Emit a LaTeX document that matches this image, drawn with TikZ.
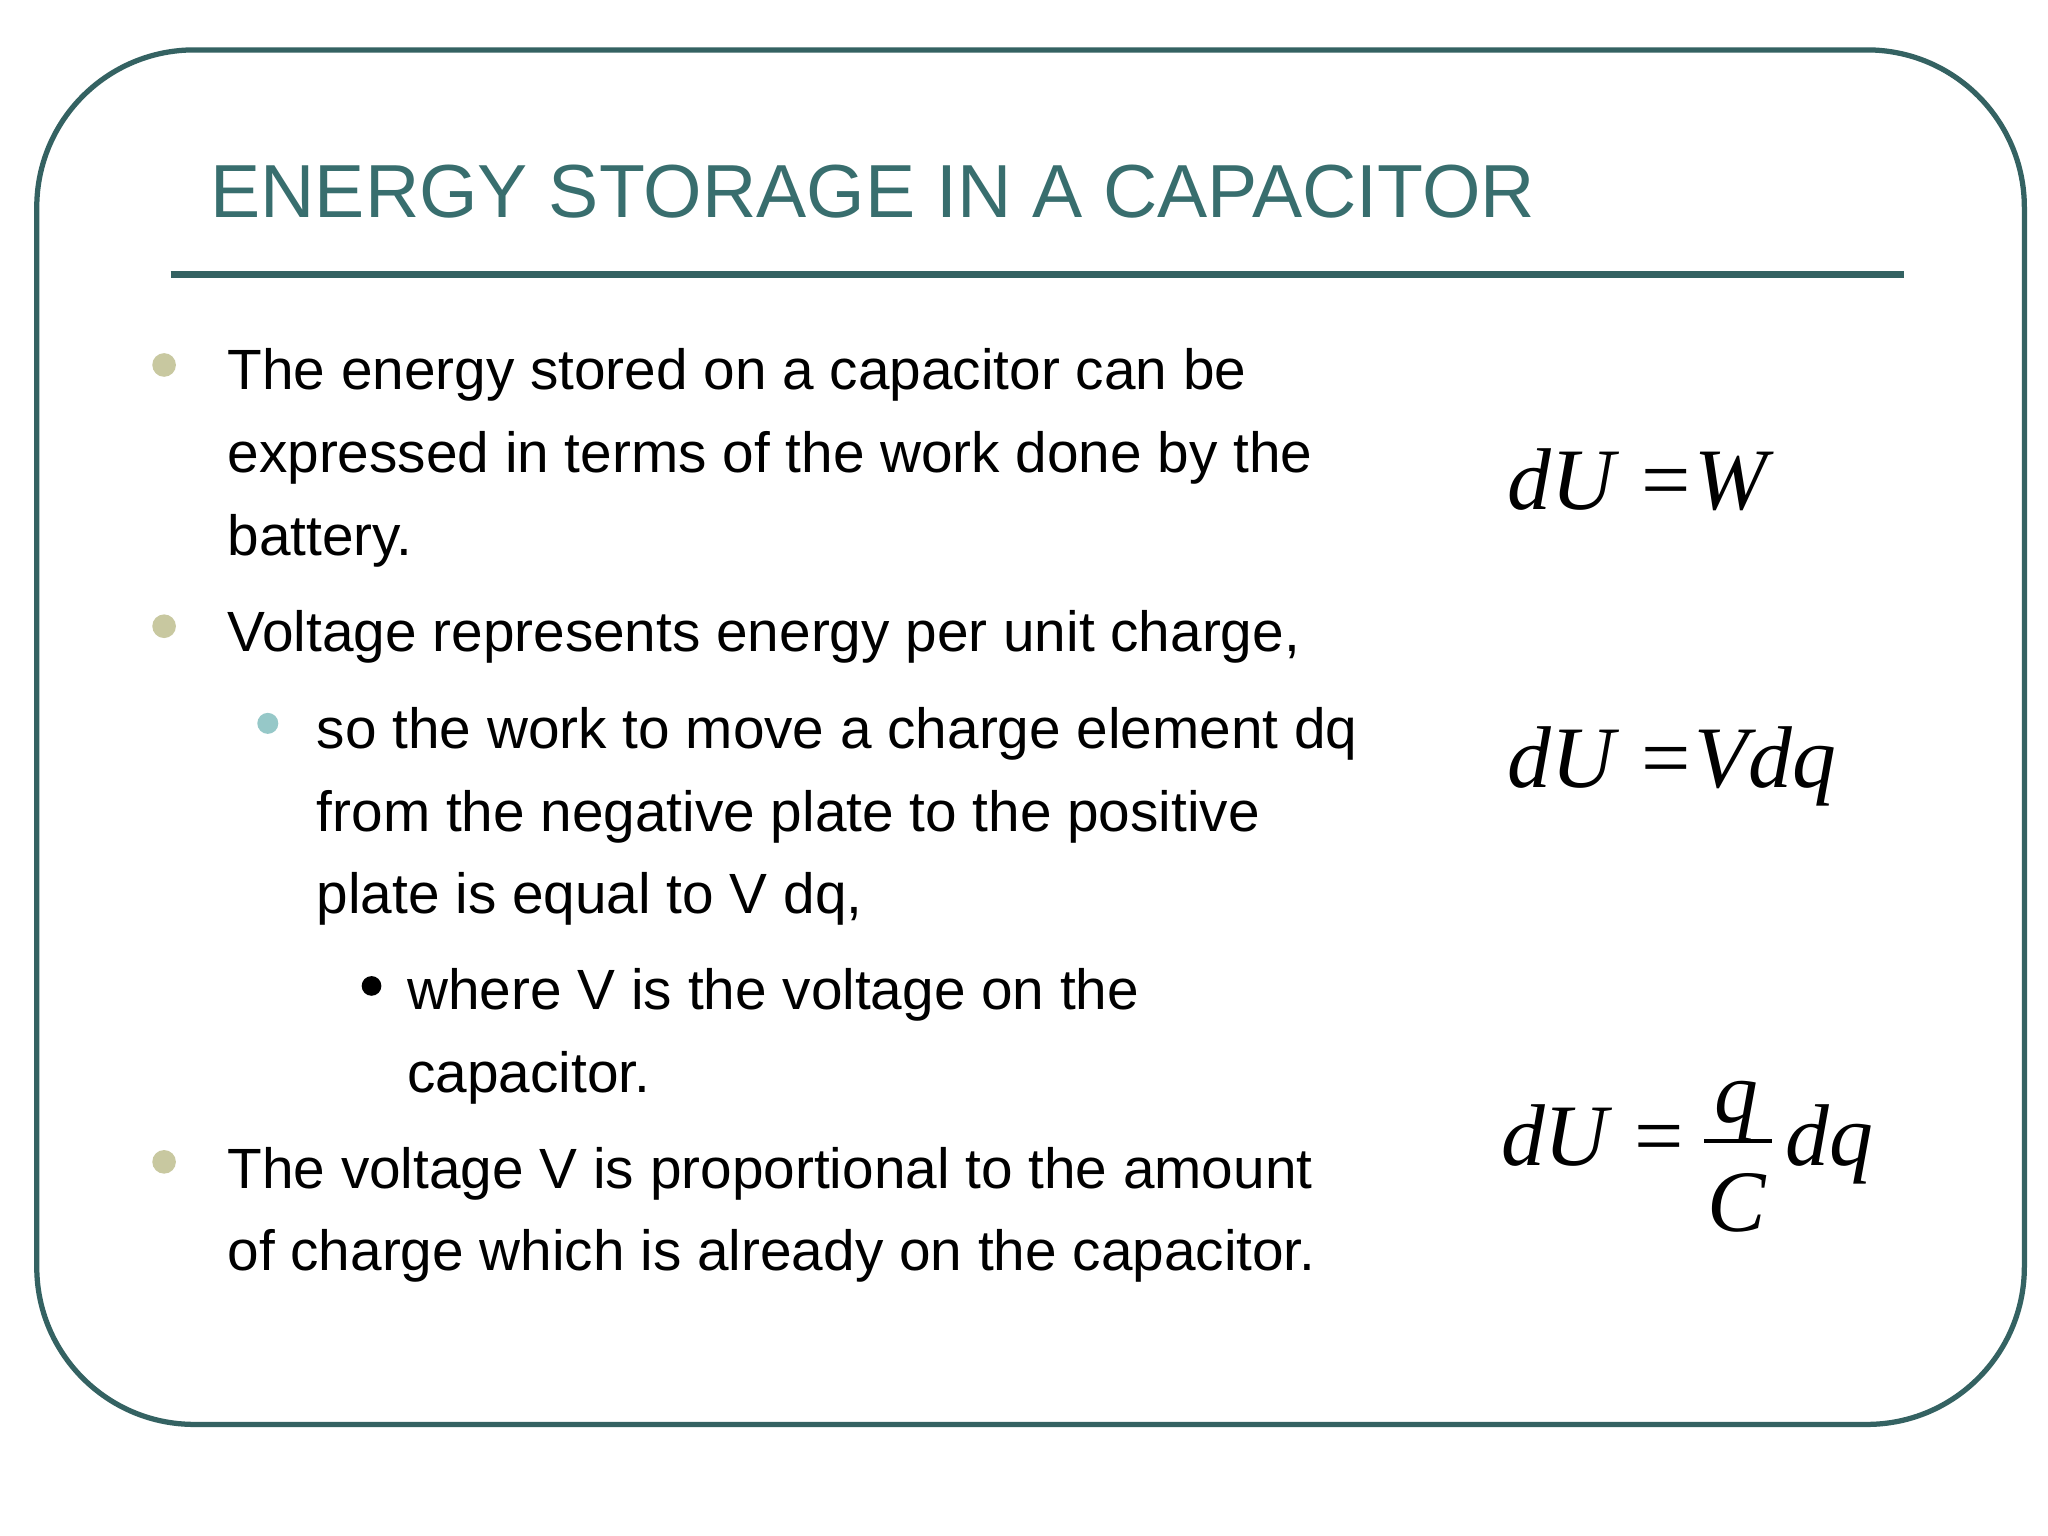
\documentclass[tikz,border=0pt]{standalone}
\usepackage{fontspec}
\setmainfont{Liberation Sans}
\newfontfamily\eqf{Liberation Serif}
\definecolor{frame}{RGB}{52,98,98}
\definecolor{titlec}{RGB}{56,110,110}
\definecolor{olive}{RGB}{200,200,160}
\definecolor{lteal}{RGB}{150,200,200}
\begin{document}
\begin{tikzpicture}[x=0.02cm,y=-0.02cm,
  body/.style={anchor=base west,inner sep=0,font=\fontsize{24.6}{28}\selectfont},
  eq/.style={anchor=base west,inner sep=0,font=\eqf\itshape\fontsize{38}{44}\selectfont},
  dot/.style={circle,inner sep=0,minimum size=0.36cm}]
\useasboundingbox (0,0) rectangle (1560,1170);
\fill[white] (0,0) rectangle (1560,1170);
\draw[frame,line width=0.08cm,rounded corners=2.4cm] (28,38) rectangle (1542,1085);
\node[anchor=base west,inner sep=0,text=titlec,font=\fontsize{32.6}{36}\selectfont] (title) at (160,166) {ENERGY STORAGE IN A CAPACITOR};
\draw[frame,line width=0.1cm] (130,209) -- (1450,209);
\node[dot,fill=olive] (b1) at (125,278) {};
\node[body] (t1) at (173,297) {The energy stored on a capacitor can be};
\node[body] (t2) at (173,360) {expressed in terms of the work done by the};
\node[body] (t3) at (173,423) {battery.};
\node[dot,fill=olive] (b2) at (125,477) {};
\node[body] (t4) at (173,496) {Voltage represents energy per unit charge,};
\node[dot,fill=lteal,minimum size=0.32cm] (b3) at (204,551) {};
\node[body] (t5) at (241,570) {so the work to move a charge element dq};
\node[body] (t6) at (241,633) {from the negative plate to the positive};
\node[body] (t7) at (241,696) {plate is equal to V dq,};
\node[dot,fill=black,minimum size=0.3cm] (b4) at (283,751) {};
\node[body] (t8) at (310,769) {where V is the voltage on the};
\node[body] (t9) at (310,832) {capacitor.};
\node[dot,fill=olive] (b5) at (125,885) {};
\node[body] (t10) at (173,905) {The voltage V is proportional to the amount};
\node[body] (t11) at (173,968) {of charge which is already on the capacitor.};
\node[eq] (e1) at (1148,388) {dU\hspace{0.3em}{\upshape=}\hspace{0.05em}W};
\node[eq] (e2) at (1148,600) {dU\hspace{0.3em}{\upshape=}\hspace{0.05em}Vdq};
\node[eq] (e3) at (1143,888) {dU\hspace{0.3em}{\upshape=}};
\node[eq,anchor=base] (q) at (1323,855) {q};
\node[eq,anchor=base] (c) at (1323,938) {C};
\draw[line width=0.06cm] (1298,869) -- (1350,869);
\node[eq] (dq) at (1360,888) {dq};
\end{tikzpicture}
\end{document}
